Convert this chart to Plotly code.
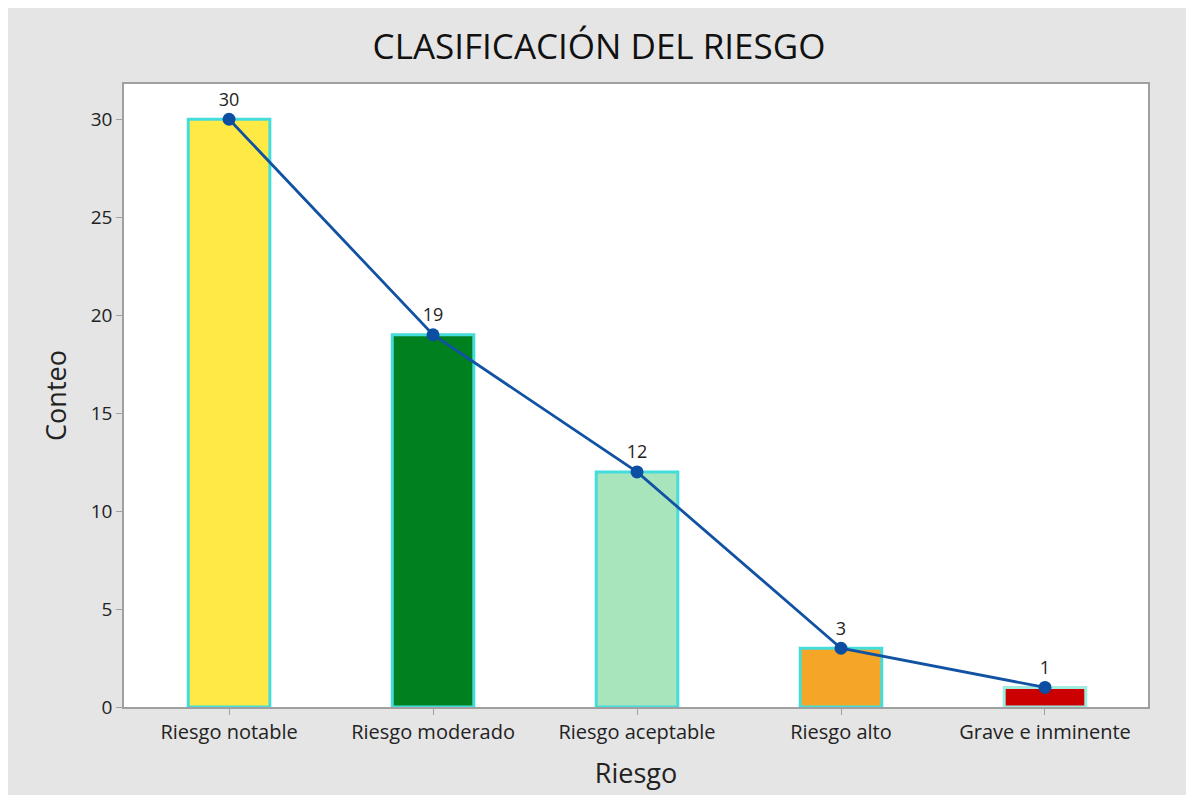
import plotly.graph_objects as go

categories = ["Riesgo notable", "Riesgo moderado", "Riesgo aceptable", "Riesgo alto", "Grave e inminente"]
counts = [30, 19, 12, 3, 1]
bar_colors = ["#FFE944", "#00801F", "#A8E5BD", "#F5A627", "#CC0000"]
outline_colors = ["#45DCDC", "#45DCDC", "#45DCDC", "#45DCDC", "#9FEDE0"]
y_ticks = [0, 5, 10, 15, 20, 25, 30]

FONT = "Open Sans"
W, H = 1182, 788

fig = go.Figure()
fig.add_trace(go.Bar(
    x=categories, y=counts, width=0.4,
    marker=dict(color=bar_colors, line=dict(color=outline_colors, width=3)),
    hoverinfo="skip", showlegend=False,
))
fig.add_trace(go.Scatter(
    x=categories, y=counts, mode="lines+markers+text",
    line=dict(color="#1152A3", width=2.8),
    marker=dict(color="#0B4EA2", size=13),
    text=[str(v) for v in counts], textposition="top center",
    textfont=dict(family=FONT, size=18, color="#222222"),
    showlegend=False,
))

fig.update_layout(
    width=W, height=H,
    paper_bgcolor="#E5E5E5", plot_bgcolor="#FFFFFF",
    margin=dict(l=116, r=42, t=76, b=89),
    title=dict(text="CLASIFICACIÓN DEL RIESGO", x=0.5, xanchor="center", y=1 - 39 / H, yanchor="middle",
               font=dict(family=FONT, size=35, color="#111111")),
    font=dict(family=FONT, color="#222222"),
    xaxis=dict(range=[-0.515, 4.505], showgrid=False, showline=True, linecolor="#A0A0A0", linewidth=1.5,
               mirror=True, ticks="outside", ticklen=6, tickcolor="#A0A0A0",
               tickfont=dict(family=FONT, size=20, color="#222222"),
               title=dict(text="Riesgo", font=dict(family=FONT, size=27, color="#222222"), standoff=20)),
    yaxis=dict(range=[0, 31.8], tickvals=y_ticks, showgrid=False, zeroline=False, showline=True,
               linecolor="#A0A0A0", linewidth=1.5, mirror=True, ticks="outside", ticklen=6, tickcolor="#A0A0A0",
               tickfont=dict(family=FONT, size=19, color="#222222"),
               title=dict(text="Conteo", font=dict(family=FONT, size=27, color="#222222"), standoff=16)),
)

fig.write_html("out.html")
